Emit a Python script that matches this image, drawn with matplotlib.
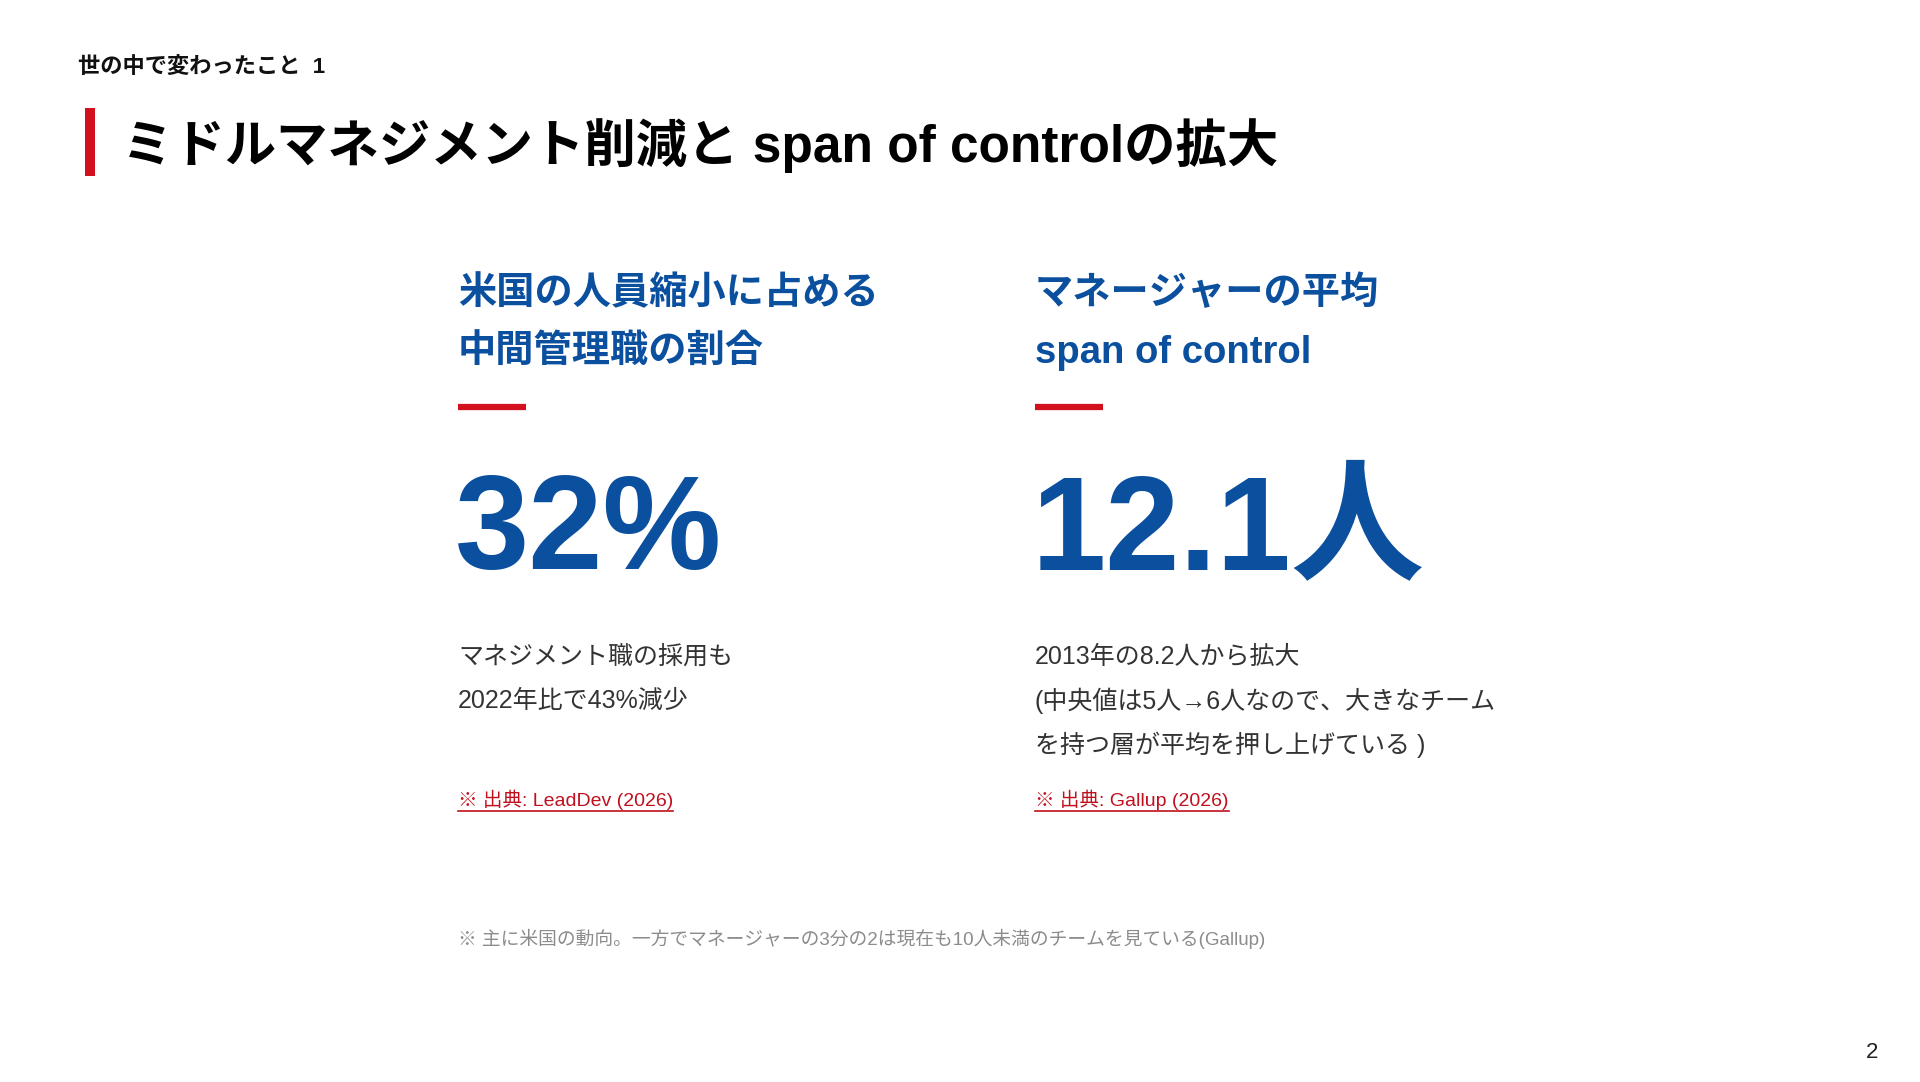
import matplotlib
matplotlib.use("Agg")
import matplotlib.pyplot as plt
from matplotlib.patches import Rectangle
from matplotlib.lines import Line2D

# slide texts
section_label = "世の中で変わったこと  1"
slide_title = "ミドルマネジメント削減と span of controlの拡大"
headings = [
    ["米国の人員縮小に占める", "中間管理職の割合"],
    ["マネージャーの平均", "span of control"],
]
big_values = ["32%", "12.1人"]
details = [
    ["マネジメント職の採用も", "2022年比で43%減少"],
    ["2013年の8.2人から拡大", "(中央値は5人→6人なので、大きなチーム", "を持つ層が平均を押し上げている )"],
]
sources = ["※ 出典: LeadDev (2026)", "※ 出典: Gallup (2026)"]
footnote = "※ 主に米国の動向。一方でマネージャーの3分の2は現在も10人未満のチームを見ている(Gallup)"
page_number = "2"

W, H = 1920, 1082
BLUE = "#0B4F9F"
RED = "#D2101E"
LINK_RED = "#C0101E"
FONT = ["Liberation Sans", "Noto Sans CJK JP"]

plt.rcParams["font.family"] = FONT

fig = plt.figure(figsize=(W / 100, H / 100), dpi=100)
fig.patch.set_facecolor("white")


def fx(x):
    return x / W


def fy(y):
    return 1 - y / H


def put(x, y, s, **kw):
    return fig.text(fx(x), fy(y), s, **kw)


# header
put(78, 67, section_label, fontsize=16, fontweight="bold", color="#111111", va="center")
fig.patches.append(Rectangle((fx(85), fy(176)), fx(10), 68 / H, transform=fig.transFigure,
                             facecolor=RED, edgecolor="none"))
put(122, 146, slide_title, fontsize=37, fontweight="bold", color="#000000", va="center")

col_x = [458, 1035]
line_gap_head = 59
line_gap_body = 44

fig.canvas.draw()
renderer = fig.canvas.get_renderer()

for i, x in enumerate(col_x):
    for j, line in enumerate(headings[i]):
        put(x, 294 + j * line_gap_head, line, fontsize=27.5, fontweight="bold", color=BLUE, va="center")
    fig.lines.append(Line2D([fx(x), fx(x + 68)], [fy(407), fy(407)], transform=fig.transFigure,
                            color=RED, linewidth=4.5, solid_capstyle="butt"))
    put(x - 3, 569, big_values[i], fontsize=96, fontweight="bold", color=BLUE, va="baseline")
    for j, line in enumerate(details[i]):
        put(x, 657 + j * line_gap_body, line, fontsize=18, color="#333333", va="center")
    t = put(x, 800, sources[i], fontsize=14, color=LINK_RED, va="center")
    bb = t.get_window_extent(renderer=renderer)
    fig.lines.append(Line2D([fx(x), fx(x) + bb.width / W], [fy(811), fy(811)],
                            transform=fig.transFigure, color=LINK_RED, linewidth=1.2))

put(458, 939, footnote, fontsize=13.5, color="#8c8c8c", va="center")
put(1872, 1053, page_number, fontsize=16, color="#222222", va="center", ha="center")

fig.savefig("out.png", dpi=100, facecolor="white")
plt.close(fig)
